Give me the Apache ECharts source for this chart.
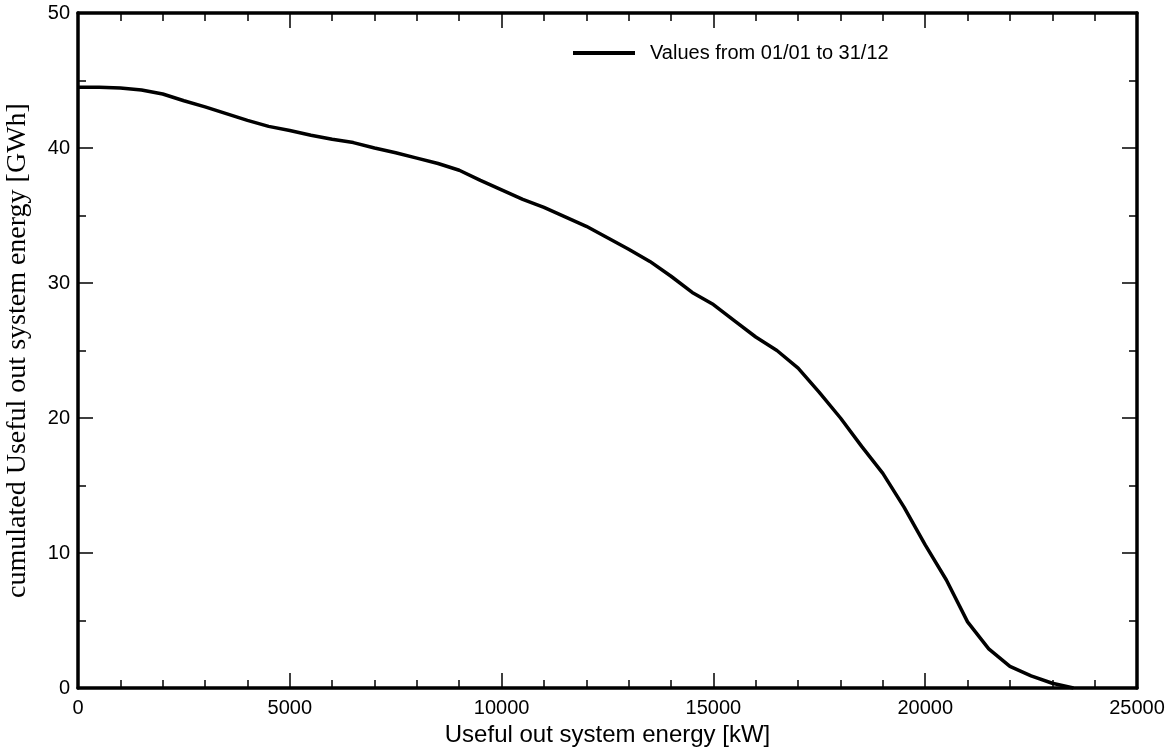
<!DOCTYPE html>
<html>
<head>
<meta charset="utf-8">
<script src="https://cdn.jsdelivr.net/npm/echarts@6/dist/echarts.min.js"></script>
<style>
  html, body { margin: 0; padding: 0; background: #fff; }
  #chart { width: 1176px; height: 751px; }
</style>
</head>
<body>
<div id="chart"></div>
<script>
// Useful out system energy threshold [kW]
const powerLevels = [
  0, 500, 1000, 1500, 2000, 2500, 3000, 3500, 4000, 4500,
  5000, 5500, 6000, 6500, 7000, 7500, 8000, 8500, 9000, 9500,
  10000, 10500, 11000, 11500, 12000, 12500, 13000, 13500, 14000, 14500,
  15000, 15500, 16000, 16500, 17000, 17500, 18000, 18500, 19000, 19500,
  20000, 20500, 21000, 21500, 22000, 22500, 23000, 23500
];
// Cumulated energy above each level [GWh]
const cumulatedEnergy = [
  44.5, 44.5, 44.45, 44.3, 44.0, 43.5, 43.05, 42.55, 42.05, 41.6,
  41.3, 40.95, 40.65, 40.4, 40.0, 39.65, 39.25, 38.85, 38.35, 37.6,
  36.9, 36.2, 35.6, 34.9, 34.2, 33.35, 32.5, 31.6, 30.5, 29.3,
  28.4, 27.2, 26.0, 25.0, 23.7, 21.9, 20.0, 17.9, 15.9, 13.4,
  10.6, 8.0, 4.9, 2.9, 1.6, 0.9, 0.35, 0.0
];
const seriesName = 'Values from 01/01 to 31/12';
const xTitle = 'Useful out system energy [kW]';
const yTitle = 'cumulated Useful out system energy [GWh]';

const chart = echarts.init(document.getElementById('chart'), null, { renderer: 'canvas' });

const sans = 'Liberation Sans, Arial, sans-serif';
const frameLine = { show: true, onZero: false, lineStyle: { color: '#000', width: 3.5 } };
const labelFont = { color: '#000', fontFamily: sans, fontSize: 20 };

function xAxisDef(pos, showLabels) {
  return {
    type: 'value', position: pos, min: 0, max: 25000, interval: 5000,
    axisLine: frameLine,
    axisTick: { show: true, inside: true, length: 15, lineStyle: { color: '#000', width: 1.5 } },
    minorTick: { show: true, splitNumber: 5, length: 8, lineStyle: { color: '#000', width: 1.5 } },
    splitLine: { show: false },
    axisLabel: Object.assign({ show: showLabels, margin: 10, formatter: v => String(v) }, labelFont),
    name: showLabels ? xTitle : '',
    nameLocation: 'middle', nameGap: 34,
    nameTextStyle: { color: '#000', fontFamily: sans, fontSize: 24 }
  };
}
function yAxisDef(pos, showLabels) {
  return {
    type: 'value', position: pos, min: 0, max: 50, interval: 10,
    axisLine: frameLine,
    axisTick: { show: true, inside: true, length: 15, lineStyle: { color: '#000', width: 1.5 } },
    minorTick: { show: true, splitNumber: 2, length: 8, lineStyle: { color: '#000', width: 1.5 } },
    splitLine: { show: false },
    axisLabel: Object.assign({ show: showLabels, margin: 8, formatter: v => String(v) }, labelFont),
    name: showLabels ? yTitle : '',
    nameLocation: 'middle', nameGap: 46,
    nameTextStyle: { color: '#000', fontFamily: 'Liberation Serif, Times New Roman, serif', fontSize: 28 }
  };
}

chart.setOption({
  animation: false,
  backgroundColor: '#fff',
  grid: { left: 78, right: 39, top: 13, bottom: 63, containLabel: false, outerBoundsMode: 'none' },
  legend: {
    left: 568, top: 38,
    icon: 'rect', itemWidth: 62, itemHeight: 4, itemGap: 0,
    textStyle: { color: '#000', fontFamily: sans, fontSize: 20, padding: [0, 0, 0, 10] },
    data: [seriesName]
  },
  xAxis: [xAxisDef('bottom', true), xAxisDef('top', false)],
  yAxis: [yAxisDef('left', true), yAxisDef('right', false)],
  series: [{
    name: seriesName,
    type: 'line',
    xAxisIndex: 0, yAxisIndex: 0,
    data: powerLevels.map((p, i) => [p, cumulatedEnergy[i]]),
    showSymbol: false,
    lineStyle: { color: '#000', width: 3.5 },
    itemStyle: { color: '#000' }
  }]
});
</script>
</body>
</html>
